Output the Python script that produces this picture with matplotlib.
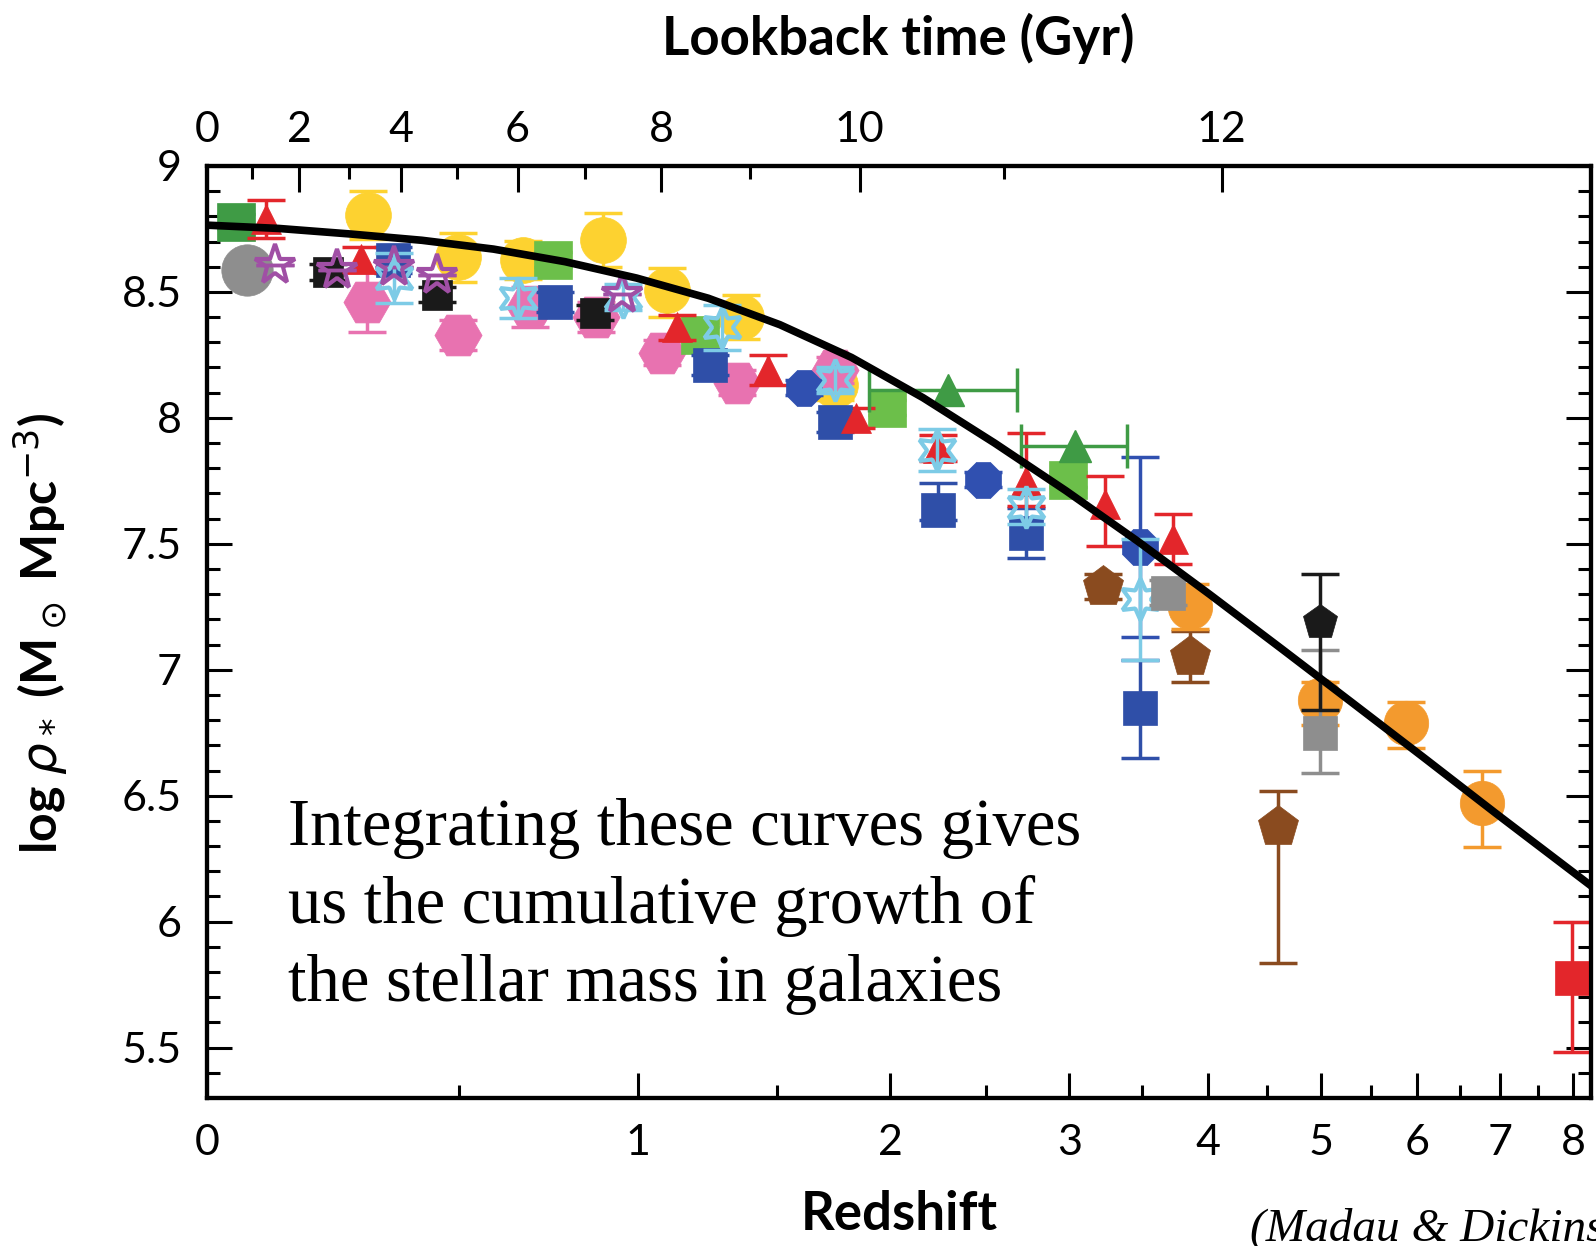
import numpy as np
import matplotlib.pyplot as plt

plt.rcParams['font.family'] = ['Lato', 'DejaVu Sans']
plt.rcParams['mathtext.fontset'] = 'dejavusans'

# cosmology for the lookback time axis
H0 = 70.0
OMEGA_M = 0.3
OMEGA_L = 0.7

# best-fit stellar mass density, sampled in log(1+z)
fit_log1pz = [0.0, 0.05, 0.10, 0.15, 0.20, 0.25, 0.30, 0.35, 0.40, 0.45,
              0.50, 0.55, 0.60, 0.65, 0.70, 0.75, 0.80, 0.85, 0.90, 0.967]
fit_logrho = [8.765, 8.752, 8.73, 8.705, 8.67, 8.62, 8.555, 8.475, 8.37, 8.24,
              8.08, 7.90, 7.71, 7.51, 7.30, 7.085, 6.868, 6.65, 6.43, 6.14]

# measurements: redshift, log rho, lower error, upper error
dkgreen_sq_z = [0.048]
dkgreen_sq_rho = [8.778]
dkgreen_sq_lo = [0.03]
dkgreen_sq_hi = [0.03]

yellow_z = [0.296, 0.497, 0.663, 0.89, 1.095, 1.36, 1.745]
yellow_rho = [8.806, 8.639, 8.627, 8.706, 8.508, 8.40, 8.13]
yellow_lo = [0.094, 0.10, 0.075, 0.107, 0.108, 0.088, 0.06]
yellow_hi = [0.094, 0.095, 0.075, 0.107, 0.087, 0.088, 0.06]

pink_z = [0.293, 0.497, 0.68, 0.87, 1.08, 1.345, 1.745]
pink_rho = [8.46, 8.33, 8.44, 8.40, 8.258, 8.139, 8.19]
pink_lo = [0.12, 0.06, 0.08, 0.06, 0.05, 0.05, 0.05]
pink_hi = [0.12, 0.06, 0.08, 0.06, 0.05, 0.05, 0.05]

gray_circ_z = [0.066]
gray_circ_rho = [8.587]

black_sq_z = [0.215, 0.447, 0.866]
black_sq_rho = [8.579, 8.488, 8.417]
black_sq_err = [0.03, 0.03, 0.03]

ltgreen_z = [0.744, 1.21, 1.985, 2.99]
ltgreen_rho = [8.627, 8.33, 8.04, 7.754]
ltgreen_err = [0.03, 0.03, 0.03, 0.03]

blue_sq_z = [0.349, 0.75, 1.245, 1.745, 2.24, 2.73, 3.48]
blue_sq_rho = [8.627, 8.46, 8.21, 7.984, 7.635, 7.544, 6.849]
blue_sq_lo = [0.05, 0.04, 0.04, 0.04, 0.04, 0.10, 0.20]
blue_sq_hi = [0.05, 0.04, 0.04, 0.04, 0.107, 0.10, 0.19]

red_tri_z = [0.10, 0.28, 1.13, 1.465, 1.84, 2.24, 2.73, 3.24, 3.73]
red_tri_rho = [8.79, 8.63, 8.36, 8.19, 8.0, 7.88, 7.75, 7.66, 7.52]
red_tri_lo = [0.075, 0.05, 0.05, 0.06, 0.04, 0.05, 0.10, 0.17, 0.10]
red_tri_hi = [0.075, 0.05, 0.05, 0.06, 0.04, 0.05, 0.19, 0.11, 0.10]

blue_circ_z = [1.61, 2.483, 3.483]
blue_circ_rho = [8.119, 7.754, 7.488]
blue_circ_err = [0.03, 0.03, 0.357]

cyan_z = [0.35, 0.649, 0.952, 1.29, 1.745, 2.235, 2.73, 3.48]
cyan_rho = [8.556, 8.476, 8.48, 8.36, 8.15, 7.873, 7.647, 7.28]
cyan_err = [0.10, 0.08, 0.05, 0.09, 0.05, 0.083, 0.07, 0.24]

star_z = [0.115, 0.232, 0.35, 0.447, 0.95]
star_rho = [8.607, 8.587, 8.60, 8.567, 8.49]

dkgreen_tri_z = [2.29, 3.04]
dkgreen_tri_rho = [8.11, 7.89]
dkgreen_tri_zmin = [1.9, 2.7]
dkgreen_tri_zmax = [2.68, 3.39]

brown_z = [3.225, 3.86, 4.6]
brown_rho = [7.329, 7.052, 6.377]
brown_lo = [0.05, 0.10, 0.54]
brown_hi = [0.05, 0.10, 0.14]

orange_z = [3.86, 4.99, 5.87, 6.77]
orange_rho = [7.25, 6.88, 6.79, 6.472]
orange_lo = [0.09, 0.10, 0.10, 0.174]
orange_hi = [0.09, 0.07, 0.083, 0.128]

gray_sq_z = [3.69, 4.99]
gray_sq_rho = [7.306, 6.75]
gray_sq_lo = [0.05, 0.16]
gray_sq_hi = [0.05, 0.33]

black_pent_z = [4.99]
black_pent_rho = [7.19]
black_pent_lo = [0.35]
black_pent_hi = [0.19]

red_sq_z = [7.98]
red_sq_rho = [5.778]
red_sq_lo = [0.294]
red_sq_hi = [0.222]

z_major = [0, 1, 2, 3, 4, 5, 6, 7, 8]
z_minor = [0.5, 1.5, 2.5, 3.5, 4.5, 5.5, 6.5, 7.5]
t_major = [0, 2, 4, 6, 8, 10, 12]
t_minor = [1, 3, 5, 7, 9, 11]
y_major = [5.5, 6, 6.5, 7, 7.5, 8, 8.5, 9]
y_labels = ['5.5', '6', '6.5', '7', '7.5', '8', '8.5', '9']

fig = plt.figure(figsize=(15.96, 12.46), dpi=100)
ax = fig.add_axes([0.1297, 0.1188, 0.8672, 0.748])


def lz(z):
    return np.log10(1 + np.asarray(z, dtype=float))


def draw(z, rho, lo, hi, marker, color, size, zorder, open_marker=False):
    x = lz(z)
    ax.errorbar(x, rho, yerr=[lo, hi], fmt='none', ecolor=color,
                elinewidth=2.5, capsize=14, capthick=2.5, zorder=zorder)
    if open_marker:
        ax.plot(x, rho, ls='none', marker=marker, ms=size, mfc='none',
                mec=color, mew=3, zorder=zorder + 0.1)
    else:
        ax.plot(x, rho, ls='none', marker=marker, ms=size, mfc=color,
                mec=color, mew=0.5, zorder=zorder + 0.1)


draw(dkgreen_sq_z, dkgreen_sq_rho, dkgreen_sq_lo, dkgreen_sq_hi, 's', '#3f9b45', 27, 2)
draw(yellow_z, yellow_rho, yellow_lo, yellow_hi, 'o', '#fdd230', 33, 2)
draw(pink_z, pink_rho, pink_lo, pink_hi, 'H', '#e872b0', 34, 3)
draw(gray_circ_z, gray_circ_rho, [0.03], [0.03], 'o', '#8e8e8e', 37, 3)
draw(black_sq_z, black_sq_rho, black_sq_err, black_sq_err, 's', '#1a1a1a', 21, 4)
draw(ltgreen_z, ltgreen_rho, ltgreen_err, ltgreen_err, 's', '#6cbf4a', 27, 4)
draw(blue_sq_z, blue_sq_rho, blue_sq_lo, blue_sq_hi, 's', '#2f4fa8', 24, 5)
draw(red_tri_z, red_tri_rho, red_tri_lo, red_tri_hi, '^', '#e3262b', 22, 5)
draw(blue_circ_z, blue_circ_rho, blue_circ_err, blue_circ_err, '8', '#3050b0', 28, 5)
draw(cyan_z, cyan_rho, cyan_err, cyan_err, (6, 1, 0), '#7dcbe6', 30, 6, open_marker=True)
draw(star_z, star_rho, [0.0] * len(star_z), [0.0] * len(star_z), '*', '#a04fa5', 30, 6,
     open_marker=True)

# green triangles carry redshift-bin error bars
tri_x = lz(dkgreen_tri_z)
ax.errorbar(tri_x, dkgreen_tri_rho,
            xerr=[tri_x - lz(dkgreen_tri_zmin), lz(dkgreen_tri_zmax) - tri_x],
            fmt='none', ecolor='#3f9b45', elinewidth=2.5, capsize=16, capthick=2.5, zorder=5)
ax.plot(tri_x, dkgreen_tri_rho, ls='none', marker='^', ms=23, mfc='#3f9b45',
        mec='#3f9b45', zorder=5.1)

draw(brown_z, brown_rho, brown_lo, brown_hi, 'p', '#8a4b1f', 31, 6)
draw(orange_z, orange_rho, orange_lo, orange_hi, 'o', '#f39a2e', 32, 6)
draw(gray_sq_z, gray_sq_rho, gray_sq_lo, gray_sq_hi, 's', '#8e8e8e', 24, 7)
draw(black_pent_z, black_pent_rho, black_pent_lo, black_pent_hi, 'p', '#1a1a1a', 26, 7)
draw(red_sq_z, red_sq_rho, red_sq_lo, red_sq_hi, 's', '#e3262b', 25, 7)

ax.plot(fit_log1pz, fit_logrho, color='black', lw=5.5, zorder=10,
        solid_capstyle='butt', solid_joinstyle='round')

ax.set_xlim(0, 0.9665)
ax.set_ylim(5.3, 9.0)

ax.set_xticks(lz(z_major))
ax.set_xticklabels([str(v) for v in z_major])
ax.set_xticks(lz(z_minor), minor=True)
ax.set_yticks(y_major)
ax.set_yticklabels(y_labels)
ax.set_yticks(np.arange(5.4, 9.0, 0.1), minor=True)

for s in ax.spines.values():
    s.set_linewidth(3)
ax.tick_params(which='both', direction='in', top=False, right=True, width=2.2,
               labelsize=31)
ax.tick_params(which='major', length=18)
ax.tick_params(which='minor', length=9.5)
ax.tick_params(axis='x', pad=19)
ax.tick_params(axis='y', pad=18)

# lookback time along the top
zgrid = np.linspace(0, 15, 15001)
integrand = 1.0 / ((1 + zgrid) * np.sqrt(OMEGA_M * (1 + zgrid) ** 3 + OMEGA_L))
t_lb = (977.8 / H0) * np.concatenate(
    [[0.0], np.cumsum(0.5 * (integrand[1:] + integrand[:-1]) * np.diff(zgrid))])


def t_to_x(t):
    return lz(np.interp(t, t_lb, zgrid))


ax2 = ax.twiny()
ax2.set_xlim(ax.get_xlim())
ax2.set_xticks(t_to_x(t_major))
ax2.set_xticklabels([str(v) for v in t_major])
ax2.set_xticks(t_to_x(t_minor), minor=True)
ax2.tick_params(which='both', direction='in', width=2.2, labelsize=31, pad=12)
ax2.tick_params(which='major', length=19)
ax2.tick_params(which='minor', length=9.5)
for s in ax2.spines.values():
    s.set_linewidth(3)

fig.text(898 / 1596, 1 - 38 / 1246, 'Lookback time (Gyr)', ha='center', va='center',
         fontsize=38, fontweight='bold')
fig.text(899 / 1596, 1 - 1214 / 1246, 'Redshift', ha='center', va='center',
         fontsize=38, fontweight='bold')
fig.text(41 / 1596, 1 - 633 / 1246, r'log $\rho_*$ (M$_\odot$ Mpc$^{-3}$)', rotation=90,
         ha='center', va='center', fontsize=36, fontweight='bold')

note_lines = ['Integrating these curves gives',
              'us the cumulative growth of',
              'the stellar mass in galaxies']
for i, line in enumerate(note_lines):
    fig.text(288 / 1596, 1 - (845 + 78 * i) / 1246, line, ha='left', va='baseline',
             fontsize=48, family='Liberation Serif', zorder=20)

# citation runs off the right edge of the figure
fig.text(1250 / 1596, 1 - 1240 / 1246, '(Madau & Dickinson 2014)', ha='left',
         va='baseline', fontsize=34, family='Liberation Serif', style='italic')

fig.savefig('out.png', dpi=100)
